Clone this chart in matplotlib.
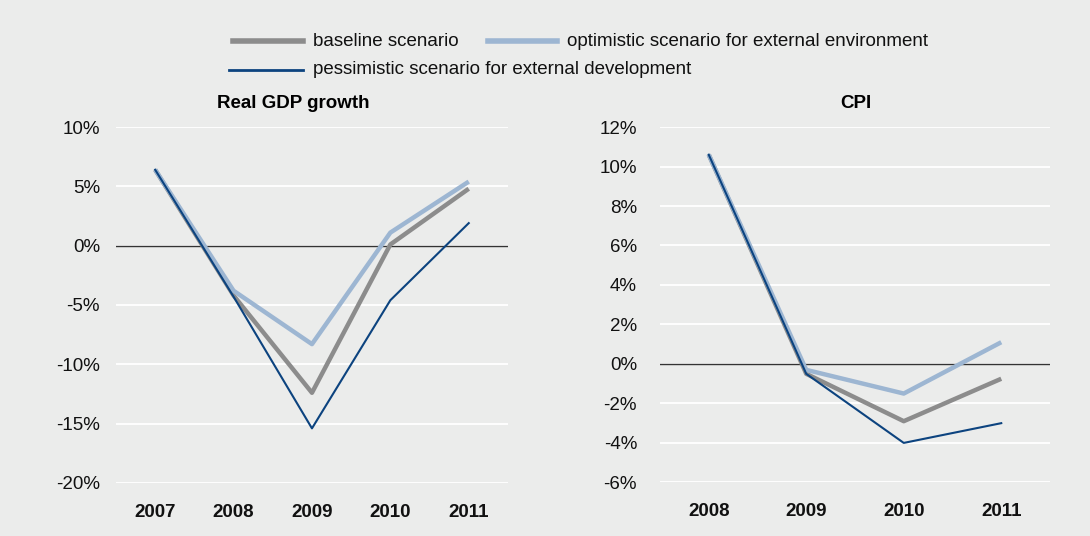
import matplotlib
matplotlib.use("Agg")
import matplotlib.pyplot as plt
from matplotlib.lines import Line2D
from matplotlib.ticker import FuncFormatter

plt.rcParams["font.family"] = ["Liberation Sans", "DejaVu Sans"]

# --- data ---
gdp_years = ["2007", "2008", "2009", "2010", "2011"]
gdp_baseline = [6.4, -4.2, -12.4, 0.1, 4.8]
gdp_optimistic = [6.4, -3.8, -8.3, 1.1, 5.4]
gdp_pessimistic = [6.4, -4.3, -15.4, -4.6, 1.9]

cpi_years = ["2008", "2009", "2010", "2011"]
cpi_baseline = [10.6, -0.5, -2.9, -0.75]
cpi_optimistic = [10.6, -0.3, -1.5, 1.1]
cpi_pessimistic = [10.6, -0.5, -4.0, -3.0]

labels = [
    "baseline scenario",
    "optimistic scenario for external environment",
    "pessimistic scenario for external development",
]

BG = "#ebeceb"
C_BASE = "#8c8c8c"
C_OPT = "#9db6d2"
C_PESS = "#0c437f"
FS = 13.5

W, H = 1090, 536
fig = plt.figure(figsize=(W / 100, H / 100), dpi=100, facecolor=BG)


def panel(rect, years, base, opt, pess, ylim, yticks, ypad):
    ax = fig.add_axes(rect, facecolor=BG)
    x = range(len(years))
    ax.plot(x, base, color=C_BASE, lw=3.2, solid_capstyle="butt", zorder=3)
    ax.plot(x, opt, color=C_OPT, lw=3.2, solid_capstyle="butt", zorder=4)
    ax.plot(x, pess, color=C_PESS, lw=1.5, zorder=5)
    ax.axhline(0, color="#333333", lw=1.0, zorder=2)
    ax.set_xlim(-0.5, len(years) - 0.5)
    ax.set_ylim(*ylim)
    ax.set_yticks(yticks)
    ax.yaxis.set_major_formatter(FuncFormatter(lambda v, p: f"{v:.0f}%"))
    ax.set_xticks(list(x))
    ax.set_xticklabels(years, fontweight="bold")
    ax.grid(axis="y", color="white", lw=1.3, zorder=1)
    ax.set_axisbelow(True)
    for s in ax.spines.values():
        s.set_visible(False)
    ax.tick_params(axis="both", length=0, labelsize=FS, colors="#111111")
    ax.tick_params(axis="x", pad=15)
    ax.tick_params(axis="y", pad=ypad)
    return ax


panel([0.1064, 0.099, 0.3596, 0.664], gdp_years, gdp_baseline,
      gdp_optimistic, gdp_pessimistic, (-20, 10), range(-20, 11, 5), 11.5)
panel([0.6055, 0.100, 0.3578, 0.663], cpi_years, cpi_baseline,
      cpi_optimistic, cpi_pessimistic, (-6, 12), range(-6, 13, 2), 16.5)

fig.text(293 / W, 1 - 103 / H, "Real GDP growth", ha="center",
         va="center", fontsize=FS, fontweight="bold")
fig.text(856 / W, 1 - 103 / H, "CPI", ha="center", va="center",
         fontsize=FS, fontweight="bold")

# legend drawn by hand: the reference is not a regular grid
legend_items = [
    (labels[0], C_BASE, 4.0, 233, 303, 41),
    (labels[1], C_OPT, 4.0, 488, 557, 41),
    (labels[2], C_PESS, 2.0, 229, 303, 70),
]
for text, color, lw, x0, x1, y in legend_items:
    yf = 1 - y / H
    fig.add_artist(Line2D([x0 / W, x1 / W], [yf, yf], color=color, lw=lw,
                          transform=fig.transFigure))
    fig.text((x1 + 10) / W, yf, text, ha="left", va="center", fontsize=FS,
             color="#111111")

fig.savefig("out.png", dpi=100, facecolor=BG)
